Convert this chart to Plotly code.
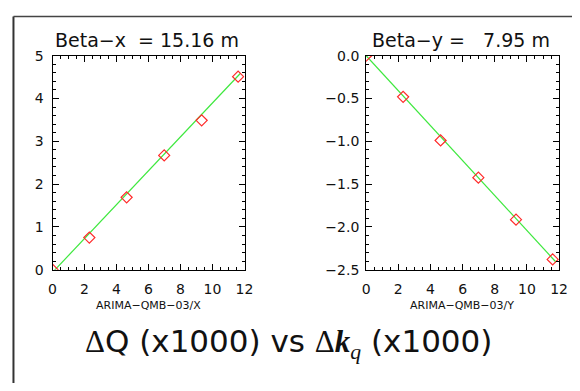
import plotly.graph_objects as go

# ---- data ----
dk = [0.0, 2.3, 4.63, 6.98, 9.32, 11.6]          # Delta k_q (x1000)
dq_x = [0.0, 0.75, 1.69, 2.67, 3.49, 4.51]        # Delta Q_x (x1000)
dq_y = [0.0, -0.48, -0.99, -1.425, -1.915, -2.38] # Delta Q_y (x1000)

fit_k_x = [0.0, 11.75]
fit_q_x = [-0.063, 4.59]
fit_k_y = [0.0, 11.8]
fit_q_y = [0.0, -2.41]

x_ticks = [0, 2, 4, 6, 8, 10, 12]
yx_ticks = [0, 1, 2, 3, 4, 5]
yy_ticks = [0.0, -0.5, -1.0, -1.5, -2.0, -2.5]

title_x = "Beta\u2212x\u00a0\u00a0= 15.16 m"
title_y = "Beta\u2212y =\u00a0\u00a0\u00a07.95 m"
xlab_x = "ARIMA\u2212QMB\u221203/X"
xlab_y = "ARIMA\u2212QMB\u221203/Y"

# page is 580x391; the default 8px body margin surrounds the figure
OFF = 8
W, H = 580 - 2 * OFF, 391 - 2 * OFF
def px(x):
    return (x - OFF) / W
def py(y):
    return 1 - (y - OFF) / H

RED = "#ff2a2a"
GREEN = "#3ee83e"
FONT = "DejaVu Sans"

fig = go.Figure()
fig.add_trace(go.Scatter(x=fit_k_x, y=fit_q_x, mode="lines",
                         line=dict(color=GREEN, width=1.2), xaxis="x", yaxis="y"))
fig.add_trace(go.Scatter(x=dk, y=dq_x, mode="markers",
                         marker=dict(symbol="diamond-open", size=8.5, color=RED, line=dict(width=1.2, color=RED)),
                         xaxis="x", yaxis="y"))
fig.add_trace(go.Scatter(x=fit_k_y, y=fit_q_y, mode="lines",
                         line=dict(color=GREEN, width=1.2), xaxis="x2", yaxis="y2"))
fig.add_trace(go.Scatter(x=dk, y=dq_y, mode="markers",
                         marker=dict(symbol="diamond-open", size=8.5, color=RED, line=dict(width=1.2, color=RED)),
                         xaxis="x2", yaxis="y2"))

common = dict(showline=True, linecolor="black", linewidth=1, mirror="allticks",
              ticks="inside", ticklen=6, tickwidth=1, tickcolor="black",
              showgrid=False, zeroline=False, fixedrange=True,
              tickfont=dict(family=FONT, size=14, color="#111"))

xd1 = [px(49.5), px(246)]
xd2 = [px(370.5), px(568)]
yd = [py(273), py(49.5)]

fig.update_layout(
    width=W, height=H, showlegend=False,
    paper_bgcolor="white", plot_bgcolor="white",
    margin=dict(l=0, r=0, t=0, b=0),
    xaxis=dict(domain=xd1, range=[0, 12], tickvals=x_ticks, anchor="y",
               ticklabelstandoff=7,
               minor=dict(dtick=0.5, ticklen=3, ticks="inside", tickcolor="black"), **common),
    yaxis=dict(domain=yd, range=[0, 5], tickvals=yx_ticks, anchor="x",
               ticklabelstandoff=5,
               minor=dict(dtick=0.2, ticklen=3, ticks="inside", tickcolor="black"), **common),
    xaxis2=dict(domain=xd2, range=[0, 12], tickvals=x_ticks, anchor="y2",
                ticklabelstandoff=7,
                minor=dict(dtick=0.5, ticklen=3, ticks="inside", tickcolor="black"), **common),
    yaxis2=dict(domain=yd, range=[-2.5, 0], tickvals=yy_ticks, tickformat=".1f", anchor="x2",
                ticklabelstandoff=3,
                minor=dict(dtick=0.1, ticklen=3, ticks="inside", tickcolor="black"), **common),
)

ann = []
ann.append(dict(text=title_x, x=px(146), y=py(33), xref="paper", yref="paper",
                xanchor="center", yanchor="middle", showarrow=False,
                font=dict(family=FONT, size=19, color="#111")))
ann.append(dict(text=title_y, x=px(468), y=py(33), xref="paper", yref="paper",
                xanchor="center", yanchor="middle", showarrow=False,
                font=dict(family=FONT, size=19, color="#111")))
ann.append(dict(text=xlab_x, x=px(148), y=py(310), xref="paper", yref="paper",
                xanchor="center", yanchor="middle", showarrow=False,
                font=dict(family=FONT, size=11, color="#111")))
ann.append(dict(text=xlab_y, x=px(469), y=py(310), xref="paper", yref="paper",
                xanchor="center", yanchor="middle", showarrow=False,
                font=dict(family=FONT, size=11, color="#111")))
big = ("<span style=\"font-family:'Liberation Serif'\">\u0394</span>Q (x1000) vs "
       "<span style=\"font-family:'Liberation Serif'\">\u0394<b><i>k</i></b><sub><i>q</i></sub></span> (x1000)")
ann.append(dict(text=big, x=px(291), y=py(350), xref="paper", yref="paper",
                xanchor="center", yanchor="middle", showarrow=False,
                font=dict(family=FONT, size=31, color="#111")))
fig.update_layout(annotations=ann)

fig.add_shape(type="line", xref="paper", yref="paper", x0=px(9.5), x1=px(9.5), y0=py(8.6), y1=py(400),
              line=dict(color="#333", width=2))
fig.add_shape(type="line", xref="paper", yref="paper", x0=px(9.5), x1=px(600), y0=py(8.6), y1=py(8.6),
              line=dict(color="#444", width=1.5))

fig.write_html("out.html", config={"displayModeBar": False, "staticPlot": True})
